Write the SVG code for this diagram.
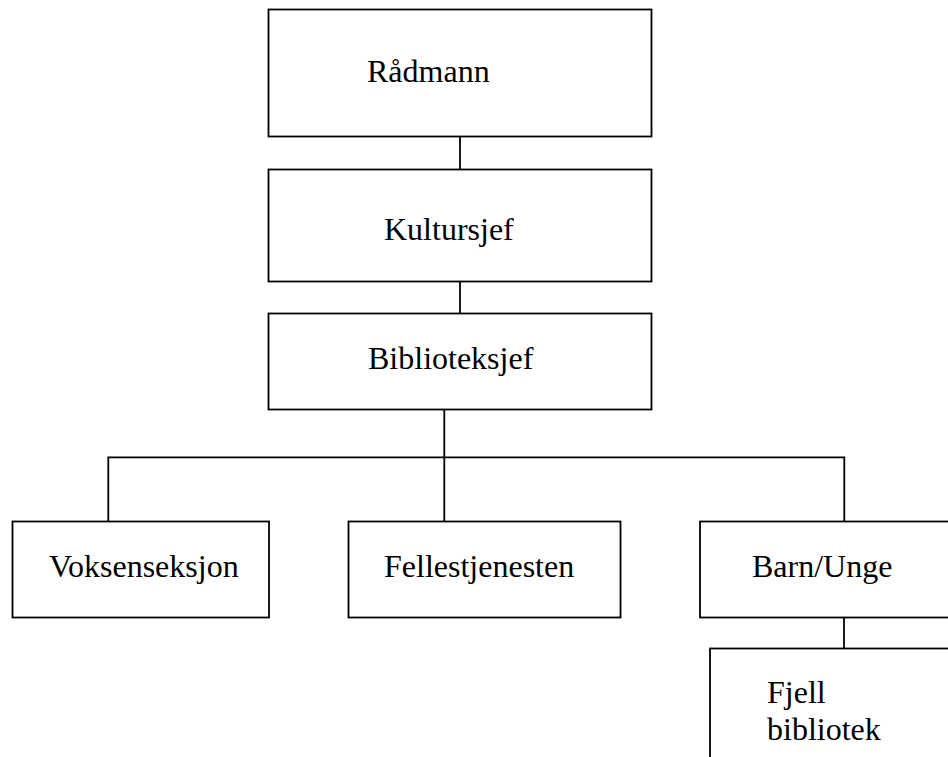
<svg xmlns="http://www.w3.org/2000/svg" width="948" height="757" viewBox="0 0 948 757">
<style>
.box{fill:#fff;stroke:#000;stroke-width:1.8}
.lbl{font-family:"Liberation Serif","Times New Roman",serif;font-size:32px;fill:#000}
.con{fill:none;stroke:#000;stroke-width:1.8}
</style>
<rect width="948" height="757" fill="#fff"/>
<g id="connectors">
<line class="con" x1="460" y1="137" x2="460" y2="169"/>
<line class="con" x1="460" y1="282" x2="460" y2="313"/>
<line class="con" x1="444.3" y1="409" x2="444.3" y2="521"/>
<polyline class="con" points="108.3,521 108.3,457.3 844.3,457.3 844.3,521"/>
<line class="con" x1="844" y1="617" x2="844" y2="648"/>
</g>
<g id="radmann">
<rect class="box" x="268.5" y="9.5" width="383" height="127"/>
<text class="lbl" x="367" y="82">Rådmann</text>
</g>
<g id="kultursjef">
<rect class="box" x="268.5" y="169.5" width="383" height="112"/>
<text class="lbl" x="384" y="240">Kultursjef</text>
</g>
<g id="biblioteksjef">
<rect class="box" x="268.5" y="313.5" width="383" height="96"/>
<text class="lbl" x="368" y="369">Biblioteksjef</text>
</g>
<g id="voksenseksjon">
<rect class="box" x="12.5" y="521.5" width="256.5" height="96"/>
<text class="lbl" x="49" y="577">Voksenseksjon</text>
</g>
<g id="fellestjenesten">
<rect class="box" x="348.5" y="521.5" width="272" height="96"/>
<text class="lbl" x="384" y="577">Fellestjenesten</text>
</g>
<g id="barnunge">
<rect class="box" x="700" y="521.5" width="260" height="96"/>
<text class="lbl" x="752" y="577">Barn/Unge</text>
</g>
<g id="fjellbibliotek">
<rect class="box" x="710" y="648.5" width="260" height="130"/>
<text class="lbl" x="767" y="703">Fjell</text>
<text class="lbl" x="767" y="740">bibliotek</text>
</g>
</svg>
